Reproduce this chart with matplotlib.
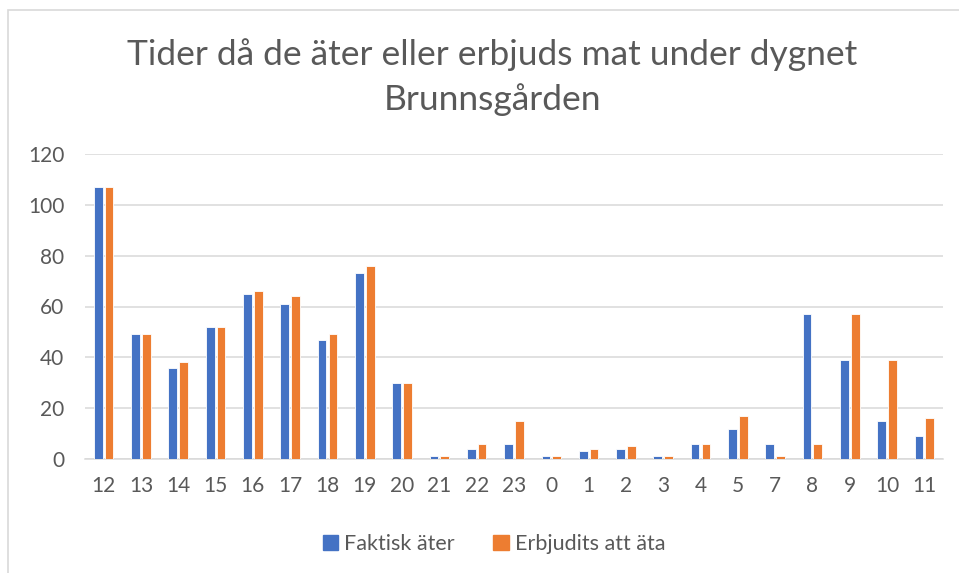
import matplotlib
matplotlib.use("Agg")
import matplotlib.pyplot as plt
import matplotlib.patches as mpatches
import numpy as np

plt.rcParams['font.family'] = ['Lato', 'DejaVu Sans']

# hours of the day (6 is missing in the source)
hours = ['12', '13', '14', '15', '16', '17', '18', '19', '20', '21', '22', '23',
         '0', '1', '2', '3', '4', '5', '7', '8', '9', '10', '11']
faktisk_ater = [107, 49, 36, 52, 65, 61, 47, 73, 30, 1, 4, 6,
                1, 3, 4, 1, 6, 12, 6, 57, 39, 15, 9]
erbjudits_ata = [107, 49, 38, 52, 66, 64, 49, 76, 30, 1, 6, 15,
                 1, 4, 5, 1, 6, 17, 1, 6, 57, 39, 16]

blue = '#4472C4'
orange = '#ED7D31'
grey_text = '#595959'
grid_col = '#D9D9D9'

W, H = 959, 573
fig = plt.figure(figsize=(W / 100, H / 100), dpi=100)
ax = fig.add_axes([85 / W, 1 - 459 / H, (943 - 85) / W, (459 - 154) / H])

x = np.arange(len(hours))
bw = 0.235
off = 0.145
ax.bar(x - off, faktisk_ater, bw, color=blue, edgecolor='white', linewidth=0.6,
       label='Faktisk äter', zorder=3)
ax.bar(x + off, erbjudits_ata, bw, color=orange, edgecolor='white', linewidth=0.6,
       label='Erbjudits att äta', zorder=3)

ax.set_xlim(-0.5, len(hours) - 0.5)
ax.set_ylim(0, 120)
ax.set_yticks(range(0, 121, 20))
ax.set_xticks(x)
ax.set_xticklabels(hours)
ax.yaxis.grid(True, color=grid_col, linewidth=1.1, zorder=0)
for s in ['top', 'right', 'left']:
    ax.spines[s].set_visible(False)
ax.spines['bottom'].set_color(grid_col)
ax.spines['bottom'].set_linewidth(1.1)
ax.tick_params(axis='both', length=0, labelsize=15, colors=grey_text)
ax.tick_params(axis='y', pad=15)
ax.tick_params(axis='x', pad=12)

fig.text(492 / W, 1 - 55 / H, 'Tider då de äter eller erbjuds mat under dygnet',
         ha='center', va='center', fontsize=25.5, color=grey_text)
fig.text(492 / W, 1 - 100 / H, 'Brunnsgården',
         ha='center', va='center', fontsize=25.5, color=grey_text)

handles = [mpatches.Patch(color=blue, label='Faktisk äter'),
           mpatches.Patch(color=orange, label='Erbjudits att äta')]
leg = fig.legend(handles=handles, loc='center', bbox_to_anchor=(494 / W, 1 - 544 / H),
                 ncol=2, frameon=False, fontsize=15.5, handlelength=0.7, handleheight=0.7,
                 handletextpad=0.3, columnspacing=1.8)
for t in leg.get_texts():
    t.set_color(grey_text)

# chart area border
fig.patches.append(mpatches.Rectangle((8 / W, -0.1), 1.0, 1.1 - 10 / H,
                                      transform=fig.transFigure, fill=False,
                                      edgecolor=grid_col, linewidth=1.2))

fig.savefig('out.png', dpi=100)
